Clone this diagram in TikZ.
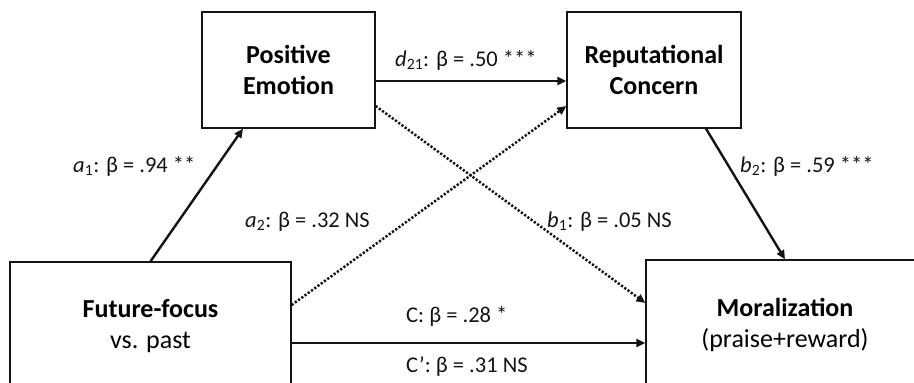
\documentclass[tikz,border=0pt]{standalone}
\usepackage{fontspec}
\setmainfont{Carlito}
\usepackage{tikz}
\usetikzlibrary{arrows.meta, positioning, calc}
\definecolor{mydark}{RGB}{20,20,20}
\tikzset{
  varbox/.style={rectangle, draw=mydark, fill=white, line width=1.3pt,
    inner sep=0pt, align=center,
    font=\fontsize{26}{31}\selectfont},
  pathlbl/.style={inner sep=0pt, anchor=base west, text=mydark,
    font=\fontsize{22.5}{27}\selectfont},
  arrow/.style={-{Triangle[length=9pt,width=8pt]}, line width=2.4pt, color=mydark},
  dotarrow/.style={-{Triangle[length=9pt,width=8pt]}, line width=2.5pt, color=mydark,
    dash pattern=on 2.2pt off 1.8pt}
}

\begin{document}
\begin{tikzpicture}[x=1pt, y=-1pt]
  \useasboundingbox (0,0) rectangle (914,383);
  \clip (0,0) rectangle (914,383);

  % Boxes
  \node[varbox, minimum width=173pt, minimum height=116pt] (pe) at (288.5,70)
    {\textbf{Positive}\\\textbf{Emotion}};
  \node[varbox, minimum width=174pt, minimum height=116pt] (rc) at (654,70)
    {\textbf{Reputational}\\\textbf{Concern}};
  \node[varbox, minimum width=281pt, minimum height=128pt] (ff) at (150.5,326)
    {\textbf{Future-focus}\\vs. past};
  \node[varbox, minimum width=278pt, minimum height=130pt] (mor) at (785,325)
    {\textbf{Moralization}\\(praise+reward)};

  % Paths
  \draw[arrow] (ff.north) -- ([xshift=-45.5pt]pe.south);
  \draw[arrow] ([yshift=-11pt]pe.east) -- ([yshift=-11pt]rc.west);
  \draw[dotarrow] ([yshift=-36pt]pe.east) -- ([yshift=22pt]mor.west);
  \draw[dotarrow] ([yshift=21pt]ff.east) -- ([yshift=-36pt]rc.west);
  \draw[arrow] ([xshift=52pt]rc.south) -- (mor.north);
  \draw[arrow] ([yshift=-17pt]ff.east) -- ([yshift=-18pt]mor.west);

  % Coefficients
  \node[pathlbl] (la1) at (73,172) {\textit{a}\textsubscript{1}: β = .94 **};
  \node[pathlbl] (ld21) at (395,66) {\textit{d}\textsubscript{21}: β = .50 ***};
  \node[pathlbl] (lb2) at (740,172) {\textit{b}\textsubscript{2}: β = .59 ***};
  \node[pathlbl] (la2) at (245,227) {\textit{a}\textsubscript{2}: β = .32 NS};
  \node[pathlbl] (lb1) at (547,227) {\textit{b}\textsubscript{1}: β = .05 NS};
  \node[pathlbl] (lc) at (406,322) {C: β = .28 *};
  \node[pathlbl] (lcp) at (406,372) {C’: β = .31 NS};
\end{tikzpicture}
\end{document}
